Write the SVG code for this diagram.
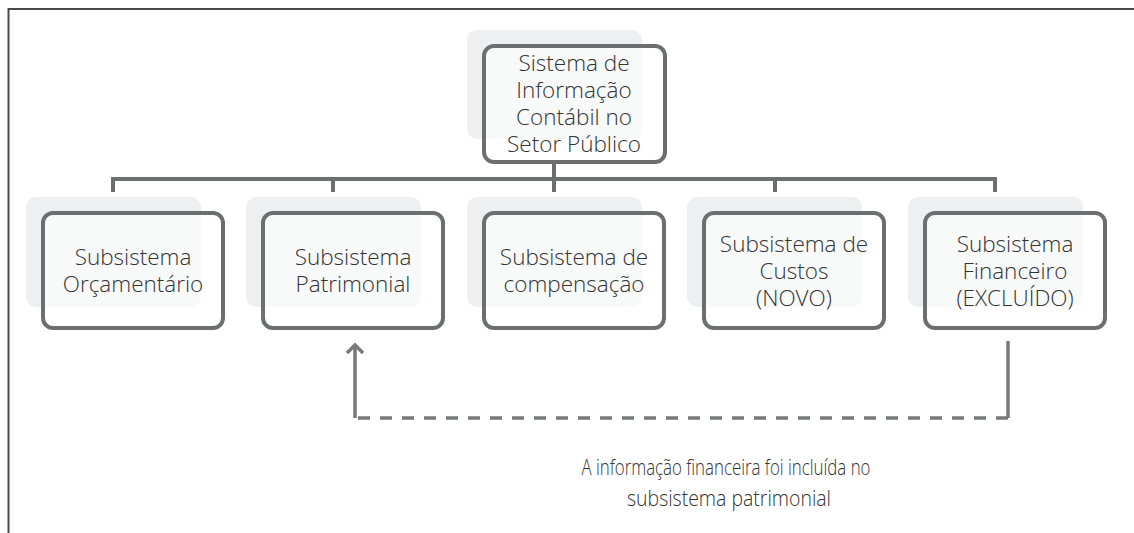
<svg xmlns="http://www.w3.org/2000/svg" width="1134" height="533" viewBox="0 0 1134 533">
<defs>
<style>
.shadow{fill:#eeeff0;}
.box{fill:#ffffff;fill-opacity:0.6;stroke:#6d6e70;stroke-width:4;}
.txt{font-family:"Open Sans","Noto Sans","Liberation Sans",sans-serif;font-size:22.5px;fill:#333333;text-anchor:middle;font-weight:300;}
.note{font-family:"Open Sans","Noto Sans","Liberation Sans",sans-serif;font-size:22.5px;fill:#333333;text-anchor:middle;font-weight:300;}
.conn{fill:none;stroke:#6d6e70;stroke-width:4;}
.flow{fill:none;stroke:#77787a;stroke-width:3.5;}
</style>
<marker id="arrow" markerWidth="20" markerHeight="20" refX="10" refY="10" orient="auto" markerUnits="userSpaceOnUse">
<path d="M2,2 L10,10 L2,18" fill="none" stroke="#77787a" stroke-width="3.5"/>
</marker>
</defs>
<rect width="1134" height="533" fill="#ffffff"/>
<path d="M8.5,533 V9 H1134" fill="none" stroke="#4a4a4a" stroke-width="2"/>

<g id="connectors">
<path class="conn" d="M554,163 V179"/>
<path class="conn" d="M113,192 V179 H995 V192"/>
<path class="conn" d="M333,179 V192 M554,179 V192 M775,179 V192"/>
<path class="flow" d="M1008,341 V418"/>
<path class="flow" d="M1008,418 H355" stroke-dasharray="12 10"/>
<path class="flow" d="M355,418 V345" marker-end="url(#arrow)"/>
</g>

<g id="node-sistema">
<rect class="shadow" x="467" y="30" width="175" height="109" rx="10"/>
<rect class="box" x="484" y="46" width="181" height="116" rx="10"/>
<text class="txt" x="574" y="71">Sistema de</text>
<text class="txt" x="574" y="98">Informação</text>
<text class="txt" x="574" y="125">Contábil no</text>
<text class="txt" x="574" y="152">Setor Público</text>
</g>

<g id="node-orcamentario">
<rect class="shadow" x="26" y="197" width="175" height="110" rx="10"/>
<rect class="box" x="43" y="213" width="180" height="115" rx="10"/>
<text class="txt" x="133" y="265">Subsistema</text>
<text class="txt" x="133" y="292">Orçamentário</text>
</g>

<g id="node-patrimonial">
<rect class="shadow" x="246" y="197" width="175" height="110" rx="10"/>
<rect class="box" x="263" y="213" width="180" height="115" rx="10"/>
<text class="txt" x="353" y="265">Subsistema</text>
<text class="txt" x="353" y="292">Patrimonial</text>
</g>

<g id="node-compensacao">
<rect class="shadow" x="467" y="197" width="175" height="110" rx="10"/>
<rect class="box" x="484" y="213" width="180" height="115" rx="10"/>
<text class="txt" x="574" y="265">Subsistema de</text>
<text class="txt" x="574" y="292">compensação</text>
</g>

<g id="node-custos">
<rect class="shadow" x="687" y="197" width="175" height="110" rx="10"/>
<rect class="box" x="704" y="213" width="180" height="115" rx="10"/>
<text class="txt" x="794" y="252">Subsistema de</text>
<text class="txt" x="794" y="279">Custos</text>
<text class="txt" x="794" y="306">(NOVO)</text>
</g>

<g id="node-financeiro">
<rect class="shadow" x="908" y="197" width="175" height="110" rx="10"/>
<rect class="box" x="925" y="213" width="180" height="115" rx="10"/>
<text class="txt" x="1015" y="252">Subsistema</text>
<text class="txt" x="1015" y="279">Financeiro</text>
<text class="txt" x="1015" y="306">(EXCLUÍDO)</text>
</g>

<g id="label-nota">
<text class="note" x="726" y="475" textLength="289" lengthAdjust="spacingAndGlyphs">A informação financeira foi incluída no</text>
<text class="note" x="729" y="506" textLength="204" lengthAdjust="spacingAndGlyphs">subsistema patrimonial</text>
</g>
</svg>
